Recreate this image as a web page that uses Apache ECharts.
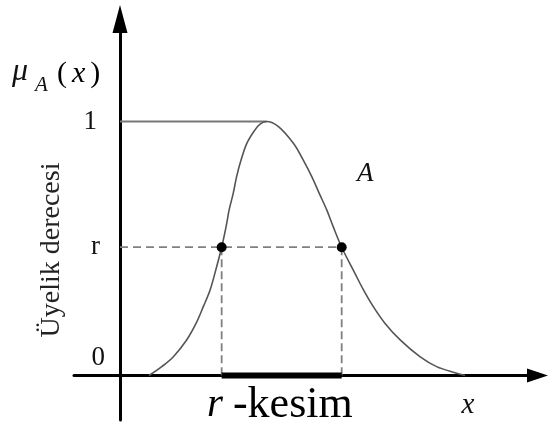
<!DOCTYPE html>
<html>
<head>
<meta charset="utf-8">
<script src="https://cdn.jsdelivr.net/npm/echarts@6/dist/echarts.min.js"></script>
<style>
  html, body { margin: 0; padding: 0; background: #fff; }
  #chart { width: 549px; height: 427px; }
</style>
</head>
<body>
<div id="chart"></div>
<script>
// Membership function of fuzzy set A (x, μ_A(x))
const curveX = [0.85, 1.23, 1.57, 1.96, 2.24, 2.45, 2.65, 2.79, 2.99, 3.12, 3.21, 3.33, 3.43, 3.56, 3.73, 3.97, 4.12, 4.31,
                4.66, 5.10, 5.39, 5.64, 5.86, 6.08, 6.27, 6.52, 6.91, 7.16, 7.45, 7.79, 8.24, 8.82, 9.31, 9.90, 10.15];
const curveY = [0, 0.035, 0.074, 0.140, 0.206, 0.271, 0.337, 0.402, 0.505, 0.586, 0.652, 0.717, 0.783, 0.848, 0.914, 0.967, 0.990, 1,
                0.980, 0.914, 0.848, 0.783, 0.717, 0.652, 0.586, 0.505, 0.402, 0.337, 0.271, 0.206, 0.140, 0.074, 0.035, 0.009, 0];

// r-cut level and the interval where μ_A(x) >= r
const rLevel = 0.505;
const cutStart = 2.99;
const cutEnd = 6.52;
const peakX = 4.31;

// y-axis ticks and their labels
const yTicks = [0, rLevel, 1];
const yTickLabels = ['0', 'r', '1'];

const SERIF = 'Liberation Serif';
const INK = '#111';

const X_MIN = -1.353, X_MAX = 12.279;
const GRID_LEFT = 74, GRID_RIGHT = 11.5;

function txt(size, italic, extra) {
  return Object.assign({
    fontFamily: SERIF,
    fontSize: size,
    fontStyle: italic ? 'italic' : 'normal',
    fill: INK
  }, extra || {});
}

const chart = echarts.init(document.getElementById('chart'), null, { renderer: 'canvas' });

const curveData = curveX.map((x, i) => [x, curveY[i]]);

// horizontal distance (px) from the grid's left edge to x = 0, where the y axis stands
const plotWidth = 549 - GRID_LEFT - GRID_RIGHT;
const yAxisShift = (0 - X_MIN) / (X_MAX - X_MIN) * plotWidth;

chart.setOption({
  animation: false,
  backgroundColor: '#fff',
  textStyle: { fontFamily: SERIF },
  grid: { left: GRID_LEFT, right: GRID_RIGHT, top: 19, bottom: 7, containLabel: false },
  xAxis: {
    type: 'value',
    min: X_MIN,
    max: X_MAX,
    axisLine: {
      onZero: true,
      lineStyle: { color: '#000', width: 3 },
      symbol: ['none', 'triangle'],
      symbolSize: [14, 21]
    },
    axisTick: { show: false },
    axisLabel: { show: false },
    splitLine: { show: false }
  },
  yAxis: {
    type: 'value',
    min: -0.1752,
    max: 1.4035,
    position: 'left',
    offset: -yAxisShift,
    axisLine: {
      onZero: false,
      lineStyle: { color: '#000', width: 3 },
      symbol: ['none', 'triangle'],
      symbolSize: [15, 28]
    },
    axisTick: { show: false },
    splitLine: { show: false },
    axisLabel: {
      customValues: yTicks,
      margin: 15,
      hideOverlap: false,
      formatter: function (v) {
        let best = 0;
        yTicks.forEach((t, i) => { if (Math.abs(t - v) < Math.abs(yTicks[best] - v)) best = i; });
        return '{t' + best + '|' + yTickLabels[best] + '}';
      },
      rich: {
        t0: { fontFamily: SERIF, fontSize: 27, color: INK, padding: [0, 0, 35, 0] },
        t1: { fontFamily: SERIF, fontSize: 27, color: INK, padding: [0, 5, 0, 0] },
        t2: { fontFamily: SERIF, fontSize: 27, color: INK, padding: [0, 8, 0, 0] }
      }
    }
  },
  series: [
    {
      name: 'plateau',
      type: 'line',
      data: [[0, 1], [peakX, 1]],
      symbol: 'none',
      lineStyle: { color: '#777', width: 2 },
      z: 3
    },
    {
      name: 'r-level',
      type: 'line',
      data: [[0, rLevel], [cutEnd, rLevel]],
      symbol: 'none',
      lineStyle: { color: '#808080', width: 1.8, type: [8, 5] },
      z: 3
    },
    {
      name: 'cut-left',
      type: 'line',
      data: [[cutStart, rLevel], [cutStart, 0]],
      symbol: 'none',
      lineStyle: { color: '#808080', width: 1.8, type: [8, 4] },
      z: 3
    },
    {
      name: 'cut-right',
      type: 'line',
      data: [[cutEnd, rLevel], [cutEnd, 0]],
      symbol: 'none',
      lineStyle: { color: '#808080', width: 1.8, type: [8, 4] },
      z: 3
    },
    {
      name: 'A',
      type: 'line',
      data: curveData,
      smooth: 0.35,
      symbol: 'none',
      lineStyle: { color: '#555', width: 1.6 },
      z: 4
    },
    {
      name: 'r-kesim',
      type: 'line',
      data: [[cutStart, 0], [cutEnd, 0]],
      symbol: 'none',
      lineStyle: { color: '#000', width: 6, cap: 'butt' },
      z: 5
    },
    {
      name: 'cut-points',
      type: 'scatter',
      data: [[cutStart, rLevel], [cutEnd, rLevel]],
      symbol: 'circle',
      symbolSize: 10,
      itemStyle: { color: '#000', opacity: 1 },
      z: 6
    }
  ],
  graphic: [
    { type: 'text', x: 12, y: 72, style: txt(32, true, { text: 'μ', verticalAlign: 'middle', align: 'left' }) },
    { type: 'text', x: 35, y: 85, style: txt(21, true, { text: 'A', verticalAlign: 'middle', align: 'left' }) },
    { type: 'text', x: 57, y: 74, style: {
        text: '{p|(}{i|x}{p|)}',
        verticalAlign: 'middle', align: 'left',
        rich: {
          p: { fontFamily: SERIF, fontSize: 30, color: INK },
          i: { fontFamily: SERIF, fontSize: 30, fontStyle: 'italic', color: INK, padding: [0, 5, 0, 5] }
        }
      } },
    { type: 'text', x: 51.5, y: 250, rotation: Math.PI / 2, style: txt(28, false, { text: 'Üyelik derecesi', fill: '#222', align: 'center', verticalAlign: 'middle' }) },
    { type: 'text', x: 357, y: 174, style: txt(27, true, { text: 'A', align: 'left', verticalAlign: 'middle' }) },
    { type: 'text', x: 207, y: 405, style: {
        text: '{i|r}{n|-kesim}',
        align: 'left', verticalAlign: 'middle',
        rich: {
          i: { fontFamily: SERIF, fontSize: 41, fontStyle: 'italic', color: INK, padding: [0, 10, 0, 0] },
          n: { fontFamily: SERIF, fontSize: 44, color: INK }
        }
      } },
    { type: 'text', x: 468, y: 405.5, style: txt(29, true, { text: 'x', align: 'center', verticalAlign: 'middle' }) }
  ]
});
</script>
</body>
</html>
